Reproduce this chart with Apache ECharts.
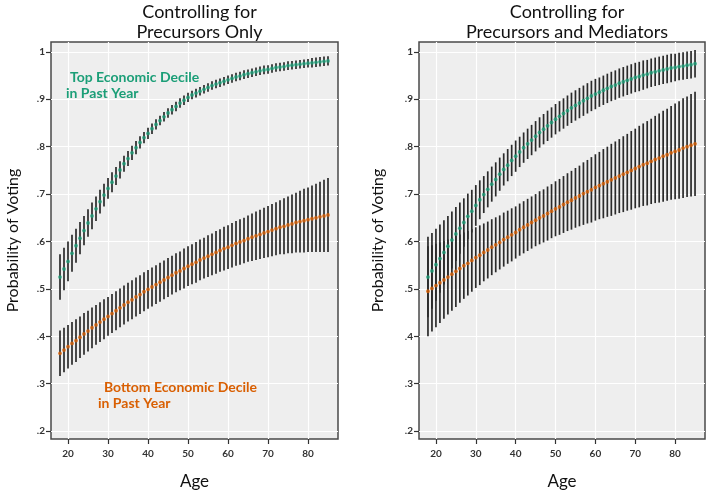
<!DOCTYPE html>
<html>
<head>
<meta charset="utf-8">
<script src="https://cdn.jsdelivr.net/npm/echarts@6/dist/echarts.min.js"></script>
<style>
  html, body { margin: 0; padding: 0; background: #ffffff; }
  #chart { width: 706px; height: 495px; }
</style>
</head>
<body>
<div id="chart"></div>
<script>
// Ages at which predicted probabilities are reported
const ages = [18,19,20,21,22,23,24,25,26,27,28,29,30,31,32,33,34,35,36,37,38,39,40,41,42,43,44,45,46,47,48,49,50,51,52,53,54,55,56,57,58,59,60,61,62,63,64,65,66,67,68,69,70,71,72,73,74,75,76,77,78,79,80,81,82,83,84,85];

// Panel 1: controlling for precursors only
const p1TopMid = [0.525,0.542,0.558,0.575,0.591,0.607,0.623,0.639,0.654,0.669,0.684,0.698,0.712,0.725,0.738,0.751,0.764,0.775,0.787,0.798,0.809,0.819,0.828,0.838,0.847,0.855,0.863,0.871,0.878,0.885,0.892,0.898,0.904,0.909,0.913,0.917,0.921,0.925,0.929,0.932,0.935,0.938,0.941,0.944,0.947,0.949,0.952,0.954,0.956,0.958,0.960,0.962,0.963,0.965,0.967,0.968,0.969,0.971,0.972,0.973,0.974,0.975,0.976,0.977,0.978,0.979,0.980,0.981];
const p1TopErr = [0.048,0.045,0.042,0.039,0.036,0.034,0.031,0.029,0.028,0.026,0.025,0.024,0.022,0.021,0.019,0.018,0.017,0.016,0.015,0.014,0.013,0.012,0.012,0.011,0.011,0.010,0.010,0.010,0.010,0.010,0.010,0.010,0.010,0.009,0.009,0.009,0.009,0.009,0.009,0.009,0.009,0.009,0.009,0.009,0.009,0.009,0.009,0.009,0.009,0.009,0.009,0.009,0.009,0.009,0.009,0.009,0.009,0.009,0.009,0.009,0.009,0.009,0.009,0.010,0.010,0.010,0.010,0.010];
const p1BottomMid = [0.364,0.371,0.378,0.385,0.391,0.398,0.405,0.411,0.418,0.424,0.430,0.436,0.442,0.448,0.454,0.460,0.466,0.472,0.477,0.483,0.488,0.494,0.499,0.504,0.509,0.514,0.519,0.524,0.529,0.534,0.538,0.543,0.548,0.552,0.556,0.561,0.565,0.569,0.573,0.577,0.581,0.585,0.588,0.592,0.596,0.599,0.602,0.606,0.609,0.612,0.615,0.618,0.621,0.624,0.627,0.630,0.632,0.635,0.637,0.640,0.642,0.644,0.646,0.648,0.650,0.652,0.654,0.656];
const p1BottomErr = [0.048,0.047,0.046,0.045,0.045,0.044,0.044,0.043,0.043,0.042,0.042,0.042,0.041,0.041,0.041,0.041,0.041,0.041,0.041,0.041,0.041,0.041,0.041,0.041,0.041,0.041,0.041,0.041,0.041,0.041,0.041,0.042,0.042,0.042,0.043,0.043,0.043,0.044,0.044,0.045,0.045,0.046,0.046,0.047,0.047,0.048,0.048,0.049,0.050,0.051,0.052,0.053,0.054,0.055,0.056,0.057,0.059,0.060,0.062,0.063,0.065,0.067,0.068,0.070,0.072,0.074,0.076,0.078];

// Panel 2: controlling for precursors and mediators
const p2TopMid = [0.525,0.538,0.551,0.564,0.577,0.590,0.603,0.616,0.628,0.640,0.653,0.664,0.676,0.688,0.699,0.710,0.721,0.731,0.742,0.752,0.761,0.771,0.780,0.789,0.798,0.806,0.814,0.822,0.830,0.837,0.844,0.851,0.858,0.864,0.870,0.876,0.882,0.887,0.892,0.897,0.902,0.907,0.911,0.915,0.919,0.923,0.927,0.930,0.934,0.937,0.940,0.943,0.946,0.948,0.951,0.953,0.956,0.958,0.960,0.962,0.964,0.966,0.967,0.969,0.970,0.972,0.973,0.975];
const p2TopErr = [0.085,0.080,0.076,0.072,0.068,0.064,0.060,0.057,0.054,0.051,0.048,0.045,0.043,0.041,0.039,0.038,0.037,0.036,0.035,0.034,0.034,0.033,0.033,0.032,0.032,0.032,0.032,0.032,0.032,0.032,0.032,0.032,0.032,0.032,0.032,0.032,0.032,0.032,0.032,0.032,0.032,0.032,0.032,0.031,0.031,0.031,0.031,0.031,0.031,0.031,0.031,0.031,0.031,0.031,0.031,0.030,0.030,0.030,0.030,0.030,0.030,0.030,0.029,0.029,0.029,0.029,0.029,0.029];
const p2BottomMid = [0.495,0.501,0.507,0.513,0.519,0.525,0.531,0.537,0.543,0.549,0.554,0.560,0.566,0.571,0.577,0.582,0.588,0.593,0.598,0.604,0.609,0.614,0.619,0.625,0.630,0.635,0.640,0.645,0.650,0.654,0.659,0.664,0.669,0.673,0.678,0.683,0.687,0.692,0.696,0.701,0.705,0.709,0.714,0.718,0.722,0.726,0.730,0.734,0.738,0.742,0.746,0.750,0.754,0.758,0.762,0.765,0.769,0.773,0.776,0.780,0.783,0.787,0.790,0.793,0.797,0.800,0.803,0.806];
const p2BottomErr = [0.095,0.091,0.088,0.085,0.082,0.079,0.077,0.075,0.072,0.070,0.068,0.066,0.064,0.063,0.061,0.060,0.059,0.058,0.057,0.057,0.056,0.056,0.055,0.055,0.055,0.055,0.055,0.055,0.056,0.056,0.057,0.057,0.058,0.059,0.060,0.061,0.062,0.063,0.064,0.066,0.067,0.069,0.070,0.071,0.073,0.074,0.076,0.077,0.078,0.080,0.081,0.083,0.084,0.086,0.087,0.089,0.090,0.092,0.094,0.096,0.097,0.099,0.101,0.103,0.105,0.106,0.108,0.110];

// Axis ticks and their printed labels
const xTicks = [20, 30, 40, 50, 60, 70, 80];
const yTicks = [0.2, 0.3, 0.4, 0.5, 0.6, 0.7, 0.8, 0.9, 1];
const yTickLabels = ['.2', '.3', '.4', '.5', '.6', '.7', '.8', '.9', '1'];

const panelTitles = ['Controlling for\nPrecursors Only', 'Controlling for\nPrecursors and Mediators'];
const topLabel = ['Top Economic Decile', 'in Past Year'];
const bottomLabel = ['Bottom Economic Decile', 'in Past Year'];

const GREEN = '#1b9e77';
const ORANGE = '#d95f02';
const FONT = 'Lato, "Open Sans", sans-serif';

const panels = [
  { top: p1TopMid, topErr: p1TopErr, bottom: p1BottomMid, bottomErr: p1BottomErr },
  { top: p2TopMid, topErr: p2TopErr, bottom: p2BottomMid, bottomErr: p2BottomErr }
];

const grids = [
  { left: 51, top: 42, width: 287, height: 402, yNameGap: 30 },
  { left: 419, top: 42, width: 286, height: 402, yNameGap: 33 }
];

function yLabel(v) {
  for (let i = 0; i < yTicks.length; i++) {
    if (Math.abs(yTicks[i] - v) < 1e-6) return yTickLabels[i];
  }
  return '';
}

function errorBars(gi, mid, err) {
  return {
    type: 'custom',
    xAxisIndex: gi,
    yAxisIndex: gi,
    silent: true,
    z: 2,
    encode: { x: 0, y: [1, 2] },
    data: ages.map((a, i) => [a, mid[i] - err[i], mid[i] + err[i]]),
    renderItem: function (params, api) {
      const lo = api.coord([api.value(0), api.value(1)]);
      const hi = api.coord([api.value(0), api.value(2)]);
      return {
        type: 'line',
        shape: { x1: lo[0], y1: lo[1], x2: hi[0], y2: hi[1] },
        style: { stroke: '#2a2a2a', lineWidth: 1.7 }
      };
    }
  };
}

function dots(gi, mid, color) {
  return {
    type: 'scatter',
    xAxisIndex: gi,
    yAxisIndex: gi,
    silent: true,
    z: 4,
    symbol: 'circle',
    symbolSize: 3.8,
    itemStyle: { color: color },
    data: ages.map((a, i) => [a, mid[i]])
  };
}

// Curve annotations inside the first panel
function label(x, y, text, color) {
  return {
    type: 'text', x: x, y: y, silent: true, z: 10,
    style: {
      text: text, fill: color, stroke: 'none', lineWidth: 0,
      fontFamily: FONT, fontSize: 14, fontWeight: 'bold'
    }
  };
}

const chart = echarts.init(document.getElementById('chart'), null, { renderer: 'canvas' });

const series = [];
panels.forEach((p, gi) => {
  series.push(errorBars(gi, p.top, p.topErr));
  series.push(errorBars(gi, p.bottom, p.bottomErr));
});
panels.forEach((p, gi) => {
  series.push(dots(gi, p.top, GREEN));
  series.push(dots(gi, p.bottom, ORANGE));
});

const option = {
  animation: false,
  backgroundColor: '#ffffff',
  title: grids.map((g, gi) => ({
    text: panelTitles[gi],
    left: g.left + g.width / 2,
    textAlign: 'center',
    top: -3,
    textStyle: { fontFamily: FONT, fontSize: 18, fontWeight: 'normal', color: '#111', lineHeight: 20 }
  })),
  grid: grids.map(g => ({
    left: g.left, top: g.top, width: g.width, height: g.height,
    show: true, backgroundColor: '#eeeeee', borderColor: '#4a4a4a', borderWidth: 1.5
  })),
  xAxis: grids.map((g, gi) => ({
    type: 'value', gridIndex: gi, min: 15.75, max: 87.5,
    axisLine: { show: false },
    axisTick: { show: true, customValues: xTicks, length: 5, lineStyle: { color: '#333', width: 1.2 } },
    axisLabel: { customValues: xTicks, fontFamily: FONT, fontSize: 10, fontWeight: 'bold', color: '#333', margin: 10 },
    splitLine: { show: true, lineStyle: { color: '#ffffff', width: 1.2 } },
    name: 'Age', nameLocation: 'middle', nameGap: 34,
    nameTextStyle: { fontFamily: FONT, fontSize: 17, color: '#111' }
  })),
  yAxis: grids.map((g, gi) => ({
    type: 'value', gridIndex: gi, min: 0.18333, max: 1.02083,
    axisLine: { show: false },
    axisTick: { show: true, customValues: yTicks, length: 5, lineStyle: { color: '#333', width: 1.2 } },
    axisLabel: { customValues: yTicks, formatter: yLabel, fontFamily: FONT, fontSize: 10, fontWeight: 'bold', color: '#333', margin: 6 },
    splitLine: { show: true, lineStyle: { color: '#ffffff', width: 1.2 } },
    name: 'Probability of Voting', nameLocation: 'middle', nameGap: g.yNameGap,
    nameTextStyle: { fontFamily: FONT, fontSize: 16, color: '#111' }
  })),
  graphic: [
    label(70, 70, topLabel[0], GREEN),
    label(66, 86, topLabel[1], GREEN),
    label(104, 380, bottomLabel[0], ORANGE),
    label(98, 396, bottomLabel[1], ORANGE)
  ],
  series: series
};

chart.setOption(option);
</script>
</body>
</html>
